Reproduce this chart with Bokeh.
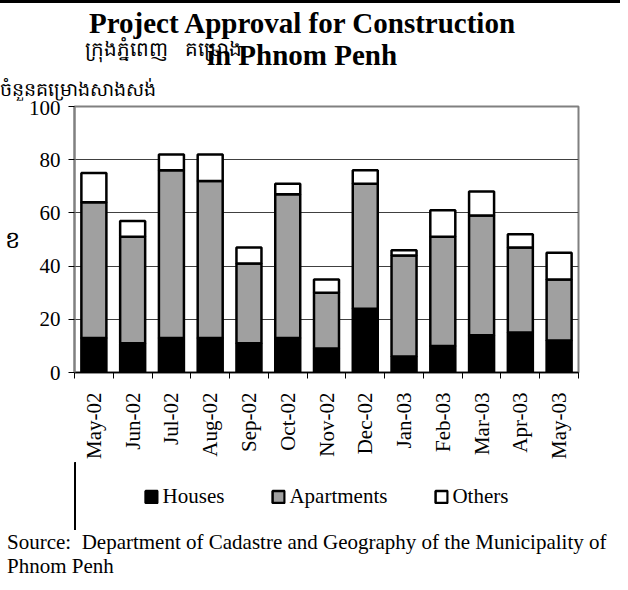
from bokeh.plotting import figure
from bokeh.models import (ColumnDataSource, Range1d, FixedTicker, Legend, LegendItem, Div)
from bokeh.layouts import column
from bokeh.embed import file_html
from bokeh.resources import INLINE
import math

# ---- data ----
months = ["May-02", "Jun-02", "Jul-02", "Aug-02", "Sep-02", "Oct-02", "Nov-02",
          "Dec-02", "Jan-03", "Feb-03", "Mar-03", "Apr-03", "May-03"]
houses = [13, 11, 13, 13, 11, 13, 9, 24, 6, 10, 14, 15, 12]
apartments = [51, 40, 63, 59, 30, 54, 21, 47, 38, 41, 45, 32, 23]
others = [11, 6, 6, 10, 6, 4, 5, 5, 2, 10, 9, 5, 10]
series = ["Houses", "Apartments", "Others"]
series_colors = ["#000000", "#A0A0A0", "#FFFFFF"]
y_ticks = [0, 20, 40, 60, 80, 100]

title_line1 = "Project Approval for Construction"
title_line2 = "in Phnom Penh"
khmer_title = "ក្រុងភ្នំពេញ\u00a0\u00a0\u00a0គម្រោង"
khmer_ylabel = "ចំនួនគម្រោងសាងសង់"
khmer_side = "ខ"
source_line1 = "Source:&nbsp; Department of Cadastre and Geography of the Municipality of"
source_line2 = "Phnom Penh"

SERIF = "Liberation Serif"
FS = "21px"

n = len(months)
centers = [i + 0.5 for i in range(n)]
bounds = [i for i in range(n + 1)]

src = ColumnDataSource(data=dict(x=centers, Houses=houses, Apartments=apartments, Others=others))

# ---- header (titles, Khmer overlays, top rule) ----
header_html = f"""
<div style="position:relative;width:620px;height:100px;overflow:visible;">
  <div style="position:absolute;left:0;top:0;width:620px;height:3px;background:#000;"></div>
  <div style="position:absolute;left:0;top:9px;width:604px;text-align:center;
              font-family:'{SERIF}';font-size:29px;font-weight:bold;line-height:29px;
              white-space:nowrap;color:#000;">{title_line1}</div>
  <div style="position:absolute;left:85px;top:37px;font-size:20px;line-height:24px;
              white-space:pre;color:#000;">{khmer_title}</div>
  <div style="position:absolute;left:0;top:41px;width:604px;text-align:center;
              font-family:'{SERIF}';font-size:29px;font-weight:bold;line-height:29px;
              white-space:nowrap;color:#000;">{title_line2}</div>
  <div style="position:absolute;left:0;top:79px;font-size:19px;line-height:22px;
              white-space:nowrap;color:#000;">{khmer_ylabel}</div>
</div>
"""
header = Div(text=header_html, width=620, height=100, margin=0)

# ---- chart ----
p = figure(width=620, height=362, output_backend="svg", toolbar_location=None,
           x_range=Range1d(0, n), y_range=Range1d(0, 100),
           min_border_left=74, min_border_right=42, min_border_top=6, min_border_bottom=90)
p.background_fill_color = "white"
p.border_fill_color = "white"
p.outline_line_color = "#808080"
p.outline_line_width = 2

rs = p.vbar_stack(series, x="x", width=0.645, source=src,
                  fill_color=series_colors, line_color="black", line_width=2.5)

p.xgrid.grid_line_color = None
p.ygrid.grid_line_color = "#404040"
p.ygrid.grid_line_width = 1
p.ygrid.ticker = FixedTicker(ticks=y_ticks)

yax = p.yaxis[0]
yax.ticker = FixedTicker(ticks=y_ticks)
yax.axis_line_color = "#808080"
yax.axis_line_width = 2
yax.major_tick_line_color = "black"
yax.major_tick_in = 0
yax.major_tick_out = 6
yax.minor_tick_line_color = None
yax.major_label_text_font = SERIF
yax.major_label_text_font_size = FS
yax.major_label_text_color = "black"
yax.major_label_standoff = 8
yax.axis_label = khmer_side
yax.axis_label_orientation = "horizontal"
yax.axis_label_text_font_style = "normal"
yax.axis_label_text_font_size = "24px"
yax.axis_label_text_color = "black"
yax.axis_label_standoff = 6

xax = p.xaxis[0]
xax.ticker = FixedTicker(ticks=centers, minor_ticks=bounds)
xax.major_label_overrides = {c: m for c, m in zip(centers, months)}
xax.major_label_orientation = math.pi / 2
xax.major_tick_line_color = None
xax.minor_tick_line_color = "black"
xax.minor_tick_in = 0
xax.minor_tick_out = 6
xax.axis_line_color = "black"
xax.axis_line_width = 1.5
xax.major_label_text_font = SERIF
xax.major_label_text_font_size = FS
xax.major_label_text_color = "black"
xax.major_label_standoff = 14

# ---- legend strip (its own small figure; the stacked bars sit outside its view) ----
lf = figure(width=620, height=68, output_backend="svg", toolbar_location=None,
            min_border=0, x_range=Range1d(100, 101), y_range=Range1d(0, 1))
lf.outline_line_color = None
lf.axis.visible = False
lf.grid.visible = False
lrs = lf.vbar_stack(series, x="x", width=0.645, source=src,
                    fill_color=series_colors, line_color="black", line_width=2.5)
lg = Legend(items=[LegendItem(label=s, renderers=[r]) for s, r in zip(series, lrs)],
            location="top_center", orientation="horizontal",
            label_text_font=SERIF, label_text_font_size=FS, label_text_color="black",
            glyph_width=15, glyph_height=15, label_standoff=4, spacing=46,
            padding=0, margin=22, border_line_color=None, background_fill_alpha=0)
lf.add_layout(lg)

# ---- footer (source) ----
footer_html = f"""
<div style="position:relative;width:620px;height:60px;">
  <div style="position:absolute;left:7px;top:0;font-family:'{SERIF}';font-size:21px;
              line-height:24px;white-space:nowrap;color:#000;">{source_line1}<br>{source_line2}</div>
</div>
"""
footer = Div(text=footer_html, width=620, height=60, margin=0)

layout = column(header, p, lf, footer, spacing=0)
open("out.html", "w").write(file_html(layout, INLINE))
